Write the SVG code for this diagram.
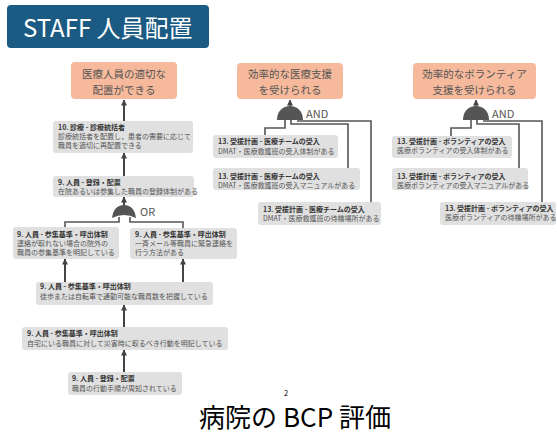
<svg xmlns="http://www.w3.org/2000/svg" width="557" height="434" viewBox="0 0 557 434">
<defs>
<marker id="ah" markerUnits="userSpaceOnUse" markerWidth="6" markerHeight="6" refX="5.5" refY="3" orient="auto">
<path d="M0,0 L6,3 L0,6 Z" fill="#444"/>
</marker>
<style>
text{font-family:"Noto Sans CJK JP","Noto Sans",sans-serif}
.goal{fill:#f6b99b}
.gt{font-size:10.5px;fill:#555;text-anchor:middle}
.box{fill:#e0e0e0}
.h{font-size:7px;font-weight:bold;fill:#333}
.d{font-size:7px;fill:#555}
.arr{stroke:#444;stroke-width:2;fill:none;marker-end:url(#ah)}
.ln{stroke:#555;stroke-width:1.6;fill:none}
.gate{fill:#555}
.gl{font-size:11px;fill:#555}
</style>
</defs>
<rect x="0" y="0" width="557" height="434" fill="#fff"/>
<g id="title">
<rect x="7" y="5" width="202" height="43" rx="4" fill="#1b5a82"/>
<text x="23" y="37" font-size="24" fill="#fff">STAFF 人員配置</text>
</g>
<g id="connectors">
<path class="arr" d="M124 121 V100"/>
<path class="arr" d="M124 176 V153"/>
<path class="arr" d="M124 205 V197"/>
<path class="ln" d="M119 217 V222 H65 V227"/>
<path class="ln" d="M130 217 V222 H183 V228"/>
<path class="arr" d="M65 282 V259"/>
<path class="arr" d="M183 282 V259"/>
<path class="arr" d="M124 327 V305"/>
<path class="arr" d="M124 372 V350"/>
<path class="arr" d="M290 107 V100" style="stroke-width:1.5"/>
<path class="ln" d="M285 120 V128 H265 V136"/>
<path class="ln" d="M291 120 V124 H348 V168"/>
<path class="ln" d="M297 121 H371 V202"/>
<path class="arr" d="M476 107 V100" style="stroke-width:1.5"/>
<path class="ln" d="M471 120 V128 H451 V136"/>
<path class="ln" d="M477 120 V124 H519 V168"/>
<path class="ln" d="M483 121 H542 V202"/>
</g>
<g id="goal1">
<rect class="goal" x="71" y="62" width="106" height="37" rx="4"/>
<text class="gt" x="124" y="78">医療人員の適切な</text>
<text class="gt" x="124" y="93.5">配置ができる</text>
</g>
<g id="goal2">
<rect class="goal" x="237" y="63" width="106" height="36" rx="4"/>
<text class="gt" x="290" y="78">効率的な医療支援</text>
<text class="gt" x="290" y="93.5">を受けられる</text>
</g>
<g id="goal3">
<rect class="goal" x="413" y="63" width="123" height="36" rx="4"/>
<text class="gt" x="474.5" y="78">効率的なボランティア</text>
<text class="gt" x="474.5" y="93.5">支援を受けられる</text>
</g>
<g id="or-gate">
<path class="gate" d="M112 218 C113 210 117 205 124 205 C131 205 135 210 136 218 Q124 212 112 218 Z"/>
<text class="gl" x="140" y="216">OR</text>
</g>
<g id="and-gate1">
<path class="gate" d="M277 120 C277 111 283 106 290 106 C297 106 303 111 303 120 Z"/>
<text class="gl" x="306" y="118">AND</text>
</g>
<g id="and-gate2">
<path class="gate" d="M463 120 C463 111 469 106 476 106 C483 106 489 111 489 120 Z"/>
<text class="gl" x="492" y="118">AND</text>
</g>
<g id="n10">
<rect class="box" x="53" y="121" width="140" height="32" rx="3"/>
<text class="h" x="58" y="129.5">10. 診療 - 診療統括者</text>
<text class="d" x="58" y="138.5">診療統括者を配置し，患者の需要に応じて</text>
<text class="d" x="58" y="147.5">職員を適切に再配置できる</text>
</g>
<g id="n9a">
<rect class="box" x="53" y="176" width="141" height="21" rx="3"/>
<text class="h" x="58" y="184.5">9. 人員 - 登録・配置</text>
<text class="d" x="58" y="193.5">在院あるいは参集した職員の登録体制がある</text>
</g>
<g id="n9b">
<rect class="box" x="13" y="227" width="106" height="32" rx="3"/>
<text class="h" x="17" y="236.5">9. 人員 - 参集基準・呼出体制</text>
<text class="d" x="17" y="245.5">連絡が取れない場合の院外の</text>
<text class="d" x="17" y="254.5">職員の参集基準を明記している</text>
</g>
<g id="n9c">
<rect class="box" x="130" y="228" width="107" height="31" rx="3"/>
<text class="h" x="135" y="236.5">9. 人員 - 参集基準・呼出体制</text>
<text class="d" x="135" y="245.5">一斉メール等職員に緊急連絡を</text>
<text class="d" x="135" y="254.5">行う方法がある</text>
</g>
<g id="n9d">
<rect class="box" x="36" y="282" width="177" height="23" rx="3"/>
<text class="h" x="40" y="288.5">9. 人員 - 参集基準・呼出体制</text>
<text class="d" x="40" y="299">徒歩または自転車で通勤可能な職員数を把握している</text>
</g>
<g id="n9e">
<rect class="box" x="22" y="327" width="206" height="23" rx="3"/>
<text class="h" x="27" y="336">9. 人員 - 参集基準・呼出体制</text>
<text class="d" x="27" y="345.5">自宅にいる職員に対して災害時に取るべき行動を明記している</text>
</g>
<g id="n9f">
<rect class="box" x="68" y="372" width="114" height="23" rx="3"/>
<text class="h" x="72" y="381">9. 人員 - 登録・配置</text>
<text class="d" x="72" y="391">職員の行動手順が周知されている</text>
</g>
<g id="m1">
<rect class="box" x="213" y="135" width="125" height="23" rx="3"/>
<text class="h" x="218" y="143.5">13. 受援計画 - 医療チームの受入</text>
<text class="d" x="218" y="153.5">DMAT・医療救護班の受入体制がある</text>
</g>
<g id="m2">
<rect class="box" x="213" y="168" width="147" height="22" rx="3"/>
<text class="h" x="218" y="178.5">13. 受援計画 - 医療チームの受入</text>
<text class="d" x="218" y="187.5">DMAT・医療救護班の受入マニュアルがある</text>
</g>
<g id="m3">
<rect class="box" x="258" y="202" width="123" height="23" rx="3"/>
<text class="h" x="263" y="211.5">13. 受援計画 - 医療チームの受入</text>
<text class="d" x="263" y="220.5">DMAT・医療救護班の待機場所がある</text>
</g>
<g id="v1">
<rect class="box" x="392" y="136" width="120" height="22" rx="3"/>
<text class="h" x="397" y="143.5">13. 受援計画 - ボランティアの受入</text>
<text class="d" x="397" y="153">医療ボランティアの受入体制がある</text>
</g>
<g id="v2">
<rect class="box" x="392" y="168" width="136" height="22" rx="3"/>
<text class="h" x="397" y="178.5">13. 受援計画 - ボランティアの受入</text>
<text class="d" x="397" y="188">医療ボランティアの受入マニュアルがある</text>
</g>
<g id="v3">
<rect class="box" x="440" y="202" width="116" height="23" rx="3"/>
<text class="h" x="445" y="210.5">13. 受援計画 - ボランティアの受入</text>
<text class="d" x="445" y="220">医療ボランティアの待機場所がある</text>
</g>
<g id="footer">
<text x="199" y="427" font-size="26" fill="#000">病院の</text>
<text x="284" y="396" font-size="7.5" fill="#000">2</text>
<text x="283" y="427" font-size="26" fill="#000">BCP 評価</text>
</g>
</svg>
